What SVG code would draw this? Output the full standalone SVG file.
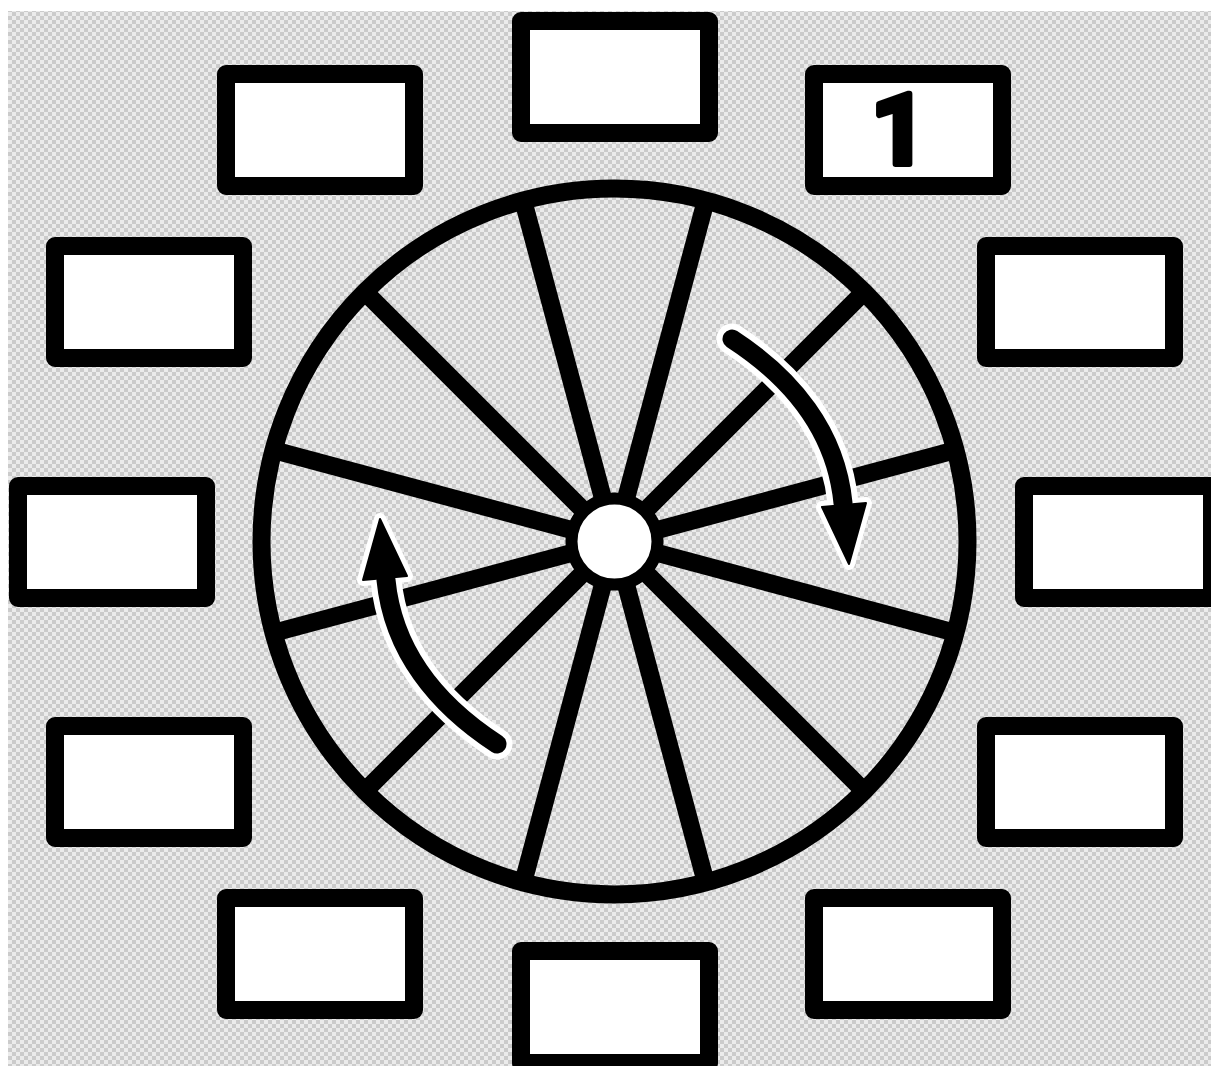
<svg xmlns="http://www.w3.org/2000/svg" width="1211" height="1066" viewBox="0 0 1211 1066">
  <defs>
    <pattern id="checker" x="0" y="0" width="8" height="8" patternUnits="userSpaceOnUse">
      <rect width="8" height="8" fill="#ebebeb"/>
      <rect width="4" height="4" fill="#cbcbcb"/>
      <rect x="4" y="4" width="4" height="4" fill="#cbcbcb"/>
    </pattern>
    <style>
      .box { fill: #ffffff; stroke: #000000; stroke-width: 18; stroke-linejoin: round; }
      .rim { fill: none; stroke: #000000; stroke-width: 18; }
      .spoke { stroke: #000000; stroke-width: 18; }
      .shaft-bg { fill: none; stroke: #ffffff; stroke-width: 31; stroke-linecap: round; }
      .shaft { fill: none; stroke: #000000; stroke-width: 19; stroke-linecap: round; }
      .head-bg { fill: #ffffff; stroke: #ffffff; stroke-width: 12; stroke-linejoin: round; }
      .head { fill: #000000; stroke: #000000; stroke-width: 2; stroke-linejoin: round; }
      .label { font-family: Roboto, "Open Sans", sans-serif; font-weight: 700; font-size: 98px; fill: #000000; stroke: #000000; stroke-width: 6; stroke-linejoin: round; }
    </style>
  </defs>

  <rect x="0" y="0" width="1211" height="1066" fill="#ffffff"/>
  <rect x="8" y="11" width="1203" height="1055" fill="url(#checker)"/>

  <g id="wheel">
    <circle class="rim" cx="614.5" cy="541.5" r="353"/>
    <line class="spoke" x1="705.86" y1="200.53" x2="523.14" y2="882.47"/>
    <line class="spoke" x1="864.11" y1="291.89" x2="364.89" y2="791.11"/>
    <line class="spoke" x1="955.47" y1="450.14" x2="273.53" y2="632.86"/>
    <line class="spoke" x1="955.47" y1="632.86" x2="273.53" y2="450.14"/>
    <line class="spoke" x1="864.11" y1="791.11" x2="364.89" y2="291.89"/>
    <line class="spoke" x1="705.86" y1="882.47" x2="523.14" y2="200.53"/>
    <circle cx="614.5" cy="541.5" r="43" fill="#ffffff" stroke="#000000" stroke-width="12"/>
  </g>

  <g id="connectors">
    <g id="arrow-right">
      <path class="shaft-bg" d="M732,339 C792,378 836,432 843,503"/>
      <polygon class="head-bg" points="822,507 866,503 849,564"/>
      <path class="shaft" d="M732,339 C792,378 836,432 843,503"/>
      <polygon class="head" points="822,507 866,503 849,564"/>
    </g>
    <g id="arrow-left" transform="rotate(180 614.5 541.5)">
      <path class="shaft-bg" d="M732,339 C792,378 836,432 843,503"/>
      <polygon class="head-bg" points="822,507 866,503 849,564"/>
      <path class="shaft" d="M732,339 C792,378 836,432 843,503"/>
      <polygon class="head" points="822,507 866,503 849,564"/>
    </g>
  </g>

  <g id="box-top"><rect class="box" x="521" y="21" width="188" height="112"/></g>
  <g id="box-top-left"><rect class="box" x="226" y="74" width="188" height="112"/></g>
  <g id="box-top-right"><rect class="box" x="814" y="74" width="188" height="112"/><text class="label" x="899" y="164" text-anchor="middle">1</text></g>
  <g id="box-left-upper"><rect class="box" x="55" y="246" width="188" height="112"/></g>
  <g id="box-right-upper"><rect class="box" x="986" y="246" width="188" height="112"/></g>
  <g id="box-left-middle"><rect class="box" x="18" y="486" width="188" height="112"/></g>
  <g id="box-right-middle"><rect class="box" x="1024" y="486" width="188" height="112"/></g>
  <g id="box-left-lower"><rect class="box" x="55" y="726" width="188" height="112"/></g>
  <g id="box-right-lower"><rect class="box" x="986" y="726" width="188" height="112"/></g>
  <g id="box-bottom-left"><rect class="box" x="226" y="898" width="188" height="112"/></g>
  <g id="box-bottom-right"><rect class="box" x="814" y="898" width="188" height="112"/></g>
  <g id="box-bottom"><rect class="box" x="521" y="951" width="188" height="112"/></g>
</svg>
